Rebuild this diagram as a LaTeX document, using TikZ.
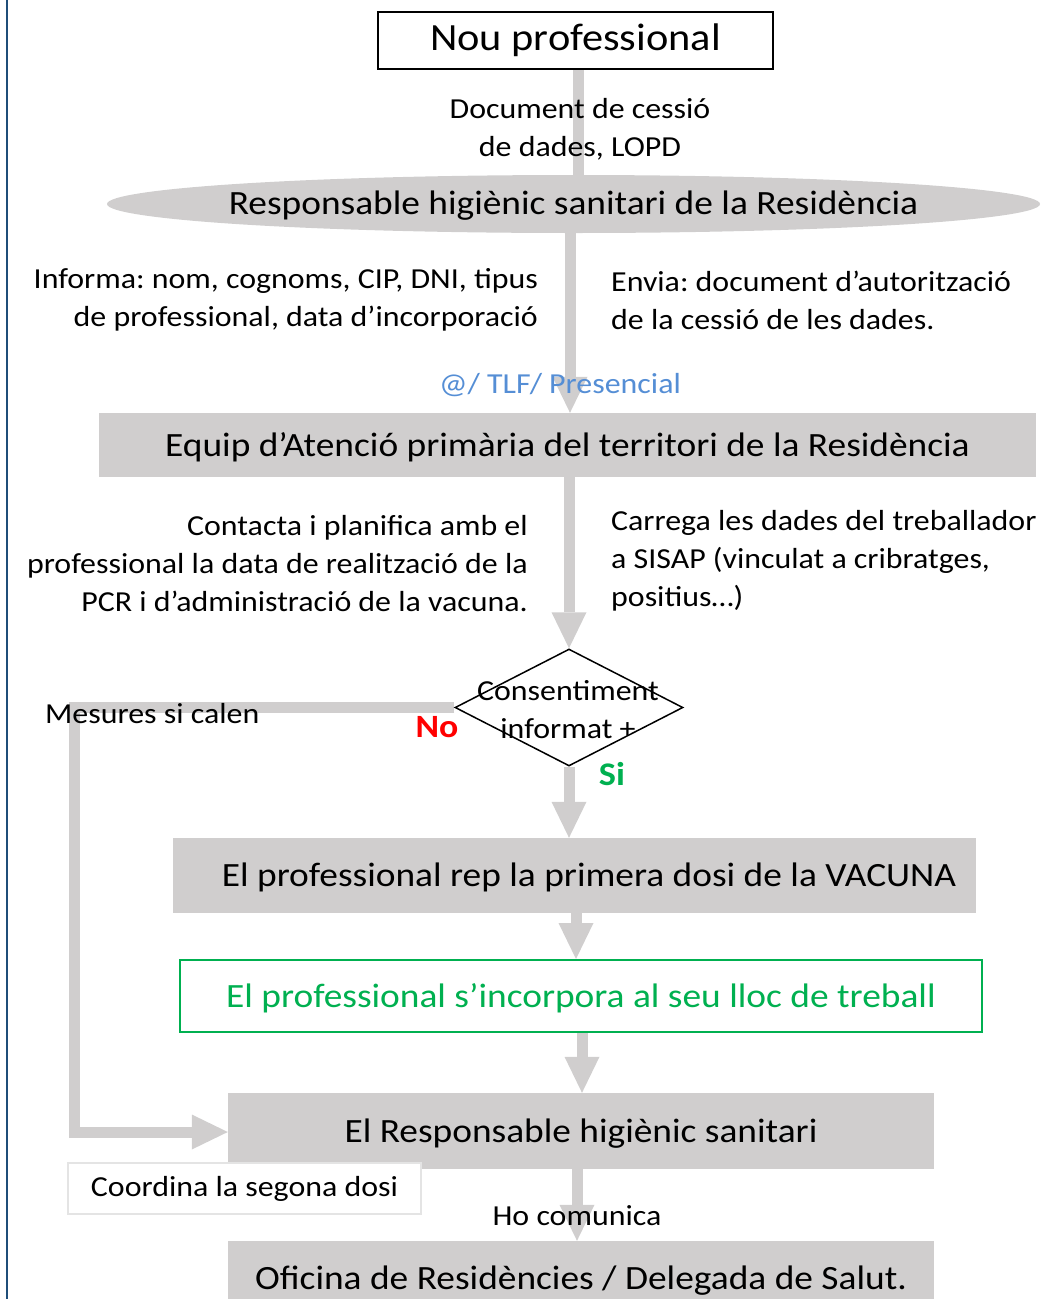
\documentclass[tikz,border=0pt]{standalone}
\usepackage{fontspec}
\setmainfont{Carlito}[FakeStretch=1.1]
\frenchspacing
\usetikzlibrary{arrows.meta,shapes.geometric}
\definecolor{gfill}{HTML}{D0CECE}
\definecolor{arr}{HTML}{D0CECE}
\definecolor{bord}{HTML}{1F4E79}
\definecolor{grn}{HTML}{00B050}
\definecolor{blu}{HTML}{558ED5}
\definecolor{rd}{HTML}{FF0000}
\definecolor{lgray}{HTML}{E4E4E4}
\pgfdeclarelayer{bg}
\pgfsetlayers{bg,main}
\tikzset{
  box/.style={rectangle, fill=gfill, inner sep=0pt, text depth=1pt, font=\fontsize{34}{38}\selectfont},
  txt/.style={inner sep=0pt, font=\fontsize{29}{38}\selectfont},
  flow/.style={draw=arr, line width=11pt, -{Triangle[length=36pt,width=35pt,line width=0pt]}},
  flowplain/.style={draw=arr, line width=11pt},
}
\begin{document}
\begin{tikzpicture}[x=1pt,y=-1pt]
\useasboundingbox (0,0) rectangle (1059,1299);
\clip (0,0) rectangle (1059,1299);
% left border
\draw[bord, line width=2pt] (7,0) -- (7,1299);

% nodes
\node[draw=black, line width=2pt, fill=white, minimum width=395pt, minimum height=57pt, inner sep=0pt,
      font=\fontsize{38.5}{42}\selectfont] (nou) at (575.5,40) {Nou professional};
\node[ellipse, fill=gfill, minimum width=933pt, minimum height=58pt, inner sep=0pt,
      label={[inner sep=0pt, font=\fontsize{34}{38}\selectfont, yshift=-2pt]center:Responsable higiènic sanitari de la Residència}] (ell) at (573.5,204) {};
\node[box, minimum width=937pt, minimum height=64pt] (equip) at (567.5,445) {Equip d’Atenció primària del territori de la Residència};
\node[diamond, draw=black, line width=1.5pt, fill=white, minimum width=228pt, minimum height=117pt, inner sep=0pt] (dia) at (569,707.5) {};
\node[box, minimum width=803pt, minimum height=75pt] (vac) at (574.5,875.5) {\hspace*{29pt}El professional rep la primera dosi de la VACUNA};
\node[draw=grn, line width=2pt, fill=white, minimum width=802pt, minimum height=72pt, inner sep=0pt, text=grn, text depth=1pt,
      font=\fontsize{34}{38}\selectfont] (inc) at (581,996) {El professional s’incorpora al seu lloc de treball};
\node[box, minimum width=706pt, minimum height=76pt] (resp) at (581,1131) {El Responsable higiènic sanitari};
\node[draw=lgray, line width=2pt, fill=white, minimum width=353pt, minimum height=51pt, inner sep=0pt,
      font=\fontsize{29}{34}\selectfont] (coord) at (244.5,1188.5) {Coordina la segona dosi};
\node[box, text depth=, minimum width=706pt, minimum height=80pt] (ofi) at (581,1281) {Oficina de Residències / Delegada de Salut.};

% text labels
\node[txt, align=center] (doc) at (580,129) {Document de cessió\\de dades, LOPD};
\node[txt, align=right, anchor=east] (informa) at (538,300) {Informa: nom, cognoms, CIP, DNI, tipus\\de professional, data d’incorporació};
\node[txt, align=left, anchor=west] (envia) at (611,300) {Envia: document d’autorització\\de la cessió de les dades.};
\node[txt, text=blu] (tlf) at (560,385) {@/ TLF/ Presencial};
\node[txt, align=right, anchor=east] (contacta) at (528,564) {Contacta i planifica amb el\\professional la data de realització de la\\PCR i d’administració de la vacuna.};
\node[txt, align=left, anchor=west] (carrega) at (611,561) {Carrega les dades del treballador\\a SISAP (vinculat a cribratges,\\positius…)};
\node[txt, align=center] (diatext) at (568,710) {Consentiment\\informat +};
\node[txt, anchor=west] (mesures) at (45,714) {Mesures si calen};
\node[txt, text=rd, font=\bfseries\fontsize{32.5}{36}\selectfont] (no) at (437,727) {No};
\node[txt, text=grn, font=\bfseries\fontsize{33}{36}\selectfont] (si) at (612,774) {Si};
\node[txt] (hocom) at (577,1216) {Ho comunica};

% connectors
\begin{pgfonlayer}{bg}
\draw[flowplain] (nou.south -| 578,0) -- (ell.north -| 578,0);
\draw[flow] (ell.south -| 570,0) -- (equip.north -| 570,0);
\draw[flow] (equip.south -| 569,0) -- (dia.north);
\draw[flow] (dia.south) -- (vac.north -| 569,0);
\draw[flow] (vac.south -| 576,0) -- (inc.north -| 576,0);
\draw[flow] (inc.south -| 582,0) -- (resp.north -| 582,0);
\draw[flow] (resp.south -| 577,0) -- (ofi.north -| 577,0);
\draw[flow] (dia.west) -- (74,707.5) -- (74,1132) -- (resp.west |- 0,1132);
\end{pgfonlayer}
\end{tikzpicture}
\end{document}
